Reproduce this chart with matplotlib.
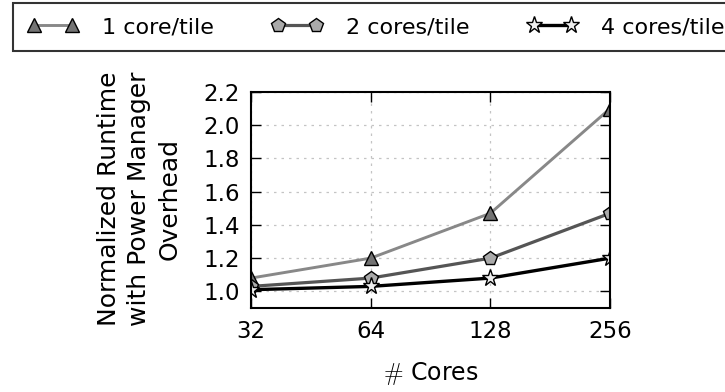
import matplotlib
matplotlib.use("Agg")
import matplotlib.pyplot as plt

plt.rcParams["font.family"] = ["DejaVu Sans"]
plt.rcParams["mathtext.fontset"] = "cm"

cores = [32, 64, 128, 256]
one_core = [1.08, 1.20, 1.47, 2.10]
two_cores = [1.03, 1.08, 1.20, 1.47]
four_cores = [1.01, 1.03, 1.08, 1.20]
series_labels = ["1 core/tile", "2 cores/tile", "4 cores/tile"]
y_ticks = [1.0, 1.2, 1.4, 1.6, 1.8, 2.0, 2.2]

W, H = 725, 392
fig = plt.figure(figsize=(W / 100, H / 100), dpi=100)
# axes box in pixels: left 251, right 610, top 92, bottom 308
ax = fig.add_axes([251 / W, 1 - 308 / H, 359 / W, 216 / H])

styles = [
    dict(color="#888888", marker="^", markerfacecolor="#737373", markersize=10, linewidth=2.1),
    dict(color="#555555", marker="p", markerfacecolor="#aaaaaa", markersize=10.5, linewidth=2.3),
    dict(color="black", marker="*", markerfacecolor="#eeeeee", markersize=12.5, linewidth=2.4),
]
lines = []
for vals, lab, st in zip([one_core, two_cores, four_cores], series_labels, styles):
    ln, = ax.plot(cores, vals, label=lab, markeredgecolor="black",
                  markeredgewidth=1.0, **st)
    lines.append(ln)

ax.set_xscale("log", base=2)
ax.set_xlim(32, 256)
ax.set_ylim(0.9, 2.2)
ax.set_xticks(cores)
ax.set_xticklabels([str(c) for c in cores])
ax.minorticks_off()
ax.set_yticks(y_ticks)
ax.set_yticklabels([f"{v:.1f}" for v in y_ticks])
ax.tick_params(direction="in", length=7, width=1, labelsize=16.5, right=True, top=True)
ax.tick_params(axis="y", pad=8)
ax.tick_params(axis="x", pad=9)
ax.grid(True, linestyle=(0, (2, 4)), color="#c4c4c4", linewidth=0.9)
for sp in ax.spines.values():
    sp.set_linewidth(1.5)

ax.set_xlabel(r"$\#$ Cores", fontsize=17)
ax.xaxis.set_label_coords(0.5, -0.24)
ax.set_ylabel("Normalized Runtime\nwith Power Manager\nOverhead", fontsize=18,
              linespacing=1.35)
ax.yaxis.set_label_coords(-0.192, 0.505)

# legend strip across the top; its right edge runs past the canvas
leg = fig.legend(handles=lines, loc="upper left", bbox_to_anchor=(13 / W, 1 - 3 / H),
                 ncol=3, numpoints=2, fontsize=16, frameon=True, fancybox=False,
                 handlelength=2.3, handletextpad=1.05, columnspacing=2.6,
                 borderaxespad=0, borderpad=0.64)
leg.get_frame().set_edgecolor("black")
leg.get_frame().set_linewidth(1.5)

fig.savefig("out.png", dpi=100)
